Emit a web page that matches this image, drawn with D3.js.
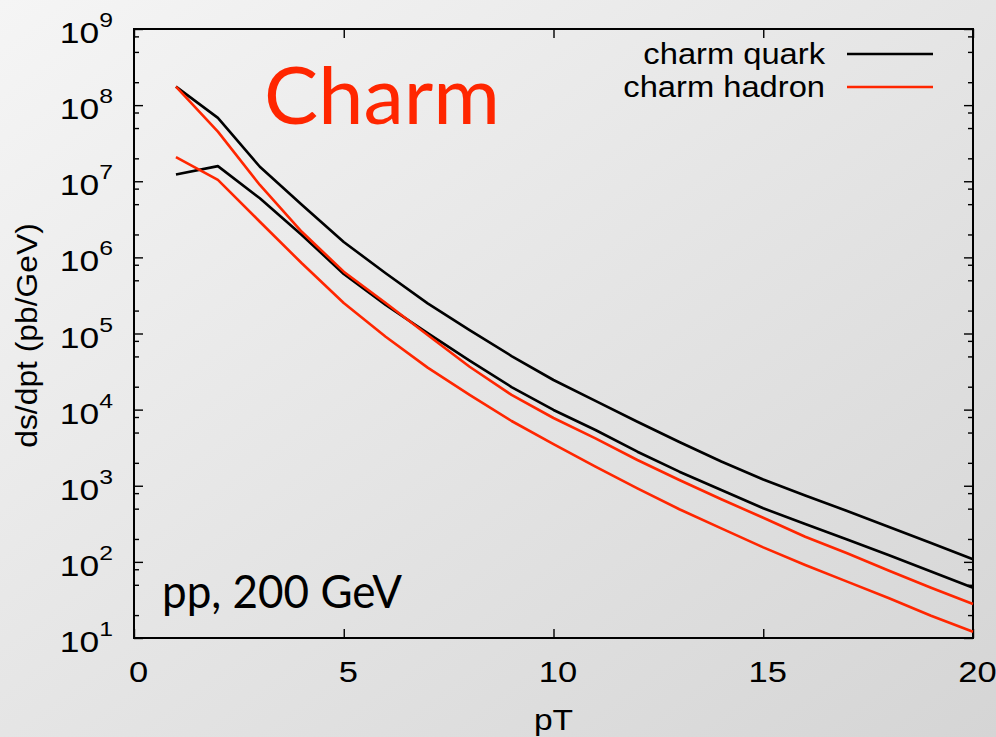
<!DOCTYPE html>
<html lang="en">
<head>
<meta charset="UTF-8">
<title>Charm pT spectrum</title>
<script src="https://cdn.jsdelivr.net/npm/d3@7/dist/d3.min.js"></script>
<style>
    body { margin: 0; }
    svg { display: block; }
    .gp { font-family: "Liberation Sans", Arial, sans-serif; fill: #000; }
    .gill { font-family: Lato, "Open Sans", sans-serif; }
    .tick line { stroke: #000; stroke-width: 1.4; }
</style>
</head>
<body>
<svg></svg>
<script>
// pT grid (GeV)
const pT = [1, 2, 3, 4, 5, 6, 7, 8, 9, 10, 11, 12, 13, 14, 15, 16, 17, 18, 19, 20];

// charm quark band (pb/GeV)
const quarkUpper = [1.75e8, 6.8e7, 1.55e7, 4.9e6, 1.59e6, 6.2e5, 2.49e5, 1.11e5, 5.06e4, 2.45e4,
    1.3e4, 6.93e3, 3.76e3, 2.08e3, 1.21e3, 745, 466, 287, 177, 108];
const quarkLower = [1.23e7, 1.58e7, 5.97e6, 1.97e6, 6.05e5, 2.37e5, 1.01e5, 4.4e4, 1.98e4, 9.9e3,
    5.4e3, 2.8e3, 1.53e3, 879, 506, 315, 197, 122, 74.6, 45.8];

// charm hadron band (pb/GeV)
const hadronUpper = [1.75e8, 4.48e7, 8.93e6, 2.17e6, 6.49e5, 2.52e5, 9.55e4, 3.66e4, 1.56e4, 7.76e3,
    4.2e3, 2.18e3, 1.19e3, 664, 380, 214, 130, 76.6, 45.8, 28.0];
const hadronLower = [2.07e7, 1.04e7, 2.94e6, 8.36e5, 2.52e5, 9.08e4, 3.56e4, 1.56e4, 7.09e3, 3.53e3,
    1.78e3, 925, 491, 276, 155, 91, 55, 33.2, 19.6, 12.1];

const xTicks = [0, 5, 10, 15, 20];
const yExponents = [1, 2, 3, 4, 5, 6, 7, 8, 9];
const legendNames = ['charm quark', 'charm hadron'];

const W = 996, H = 737;
const pl = 134, pr = 973, pt = 29, pb = 638;
const black = '#000', red = '#ff2600';

const svg = d3.select('svg').attr('width', W).attr('height', H);

const grad = svg.append('defs').append('linearGradient')
    .attr('id', 'bg').attr('x1', 0).attr('y1', 0).attr('x2', 1).attr('y2', 1);
grad.append('stop').attr('offset', 0).attr('stop-color', '#f5f5f5');
grad.append('stop').attr('offset', 1).attr('stop-color', '#d5d5d5');
svg.append('rect').attr('width', W).attr('height', H).attr('fill', 'url(#bg)');

const x = d3.scaleLinear().domain([0, 20]).range([pl, pr]);
const y = d3.scaleLog().domain([10, 1e9]).range([pb, pt]);

const majors = yExponents.map(e => Math.pow(10, e));
const minors = [];
yExponents.slice(0, -1).forEach(e => [2, 5, 8].forEach(m => minors.push(m * Math.pow(10, e))));

function ticks(axis, tr) {
    const g = svg.append('g').attr('transform', tr).call(axis);
    g.select('.domain').remove();
    return g;
}
ticks(d3.axisBottom(x).tickValues(xTicks).tickSize(-9).tickFormat(''), `translate(0,${pb})`);
ticks(d3.axisTop(x).tickValues(xTicks).tickSize(-9).tickFormat(''), `translate(0,${pt})`);
ticks(d3.axisLeft(y).tickValues(majors).tickSize(-9).tickFormat(''), `translate(${pl},0)`);
ticks(d3.axisLeft(y).tickValues(minors).tickSize(-5).tickFormat(''), `translate(${pl},0)`);
ticks(d3.axisRight(y).tickValues(majors).tickSize(-9).tickFormat(''), `translate(${pr},0)`);
ticks(d3.axisRight(y).tickValues(minors).tickSize(-5).tickFormat(''), `translate(${pr},0)`);

svg.append('rect')
    .attr('x', pl).attr('y', pt)
    .attr('width', pr - pl).attr('height', pb - pt)
    .attr('fill', 'none').attr('stroke', '#000').attr('stroke-width', 2);

// y tick labels 10^n
yExponents.forEach(e => {
    const t = svg.append('text').attr('class', 'gp')
        .attr('transform', `translate(113,${y(Math.pow(10, e)) + 14}) scale(1.18,1)`)
        .attr('text-anchor', 'end')
        .style('font-size', '30px');
    t.append('tspan').text('10');
    t.append('tspan').attr('dy', -16).style('font-size', '21px').text(e);
});

// x tick labels
xTicks.forEach(v => {
    svg.append('text').attr('class', 'gp')
        .attr('transform', `translate(${x(v) + 4.5},682) scale(1.15,1)`)
        .attr('text-anchor', 'middle')
        .style('font-size', '30px')
        .text(v);
});

svg.append('text').attr('class', 'gp')
    .attr('transform', `translate(${x(10)},730) scale(1.12,1)`)
    .attr('text-anchor', 'middle').style('font-size', '30px')
    .text('pT');

svg.append('text').attr('class', 'gp')
    .attr('transform', `translate(37,${(pt + pb) / 2 + 2}) rotate(-90) scale(1.06,1)`)
    .attr('text-anchor', 'middle').style('font-size', '30px')
    .text('ds/dpt (pb/GeV)');

// curves
const line = d3.line().x((d, i) => x(pT[i])).y(d => y(d));
const series = [
    { v: quarkUpper, c: black }, { v: quarkLower, c: black },
    { v: hadronUpper, c: red }, { v: hadronLower, c: red }
];
svg.selectAll('path.curve').data(series).enter().append('path')
    .attr('class', 'curve')
    .attr('d', s => line(s.v))
    .attr('fill', 'none')
    .attr('stroke', s => s.c)
    .attr('stroke-width', 2.6)
    .attr('stroke-linejoin', 'round');

// legend
legendNames.forEach((name, i) => {
    const yy = 54 + i * 33;
    svg.append('text').attr('class', 'gp')
        .attr('transform', `translate(825,${yy + 10}) scale(1.09,1)`)
        .attr('text-anchor', 'end').style('font-size', '30px')
        .text(name);
    svg.append('line')
        .attr('x1', 847).attr('x2', 933).attr('y1', yy).attr('y2', yy)
        .attr('stroke', i === 0 ? black : red).attr('stroke-width', 2.6);
});

svg.append('text').attr('class', 'gill')
    .attr('x', 264).attr('y', 124)
    .attr('textLength', 236).attr('lengthAdjust', 'spacingAndGlyphs')
    .style('font-size', '79px').attr('fill', red)
    .text('Charm');

svg.append('text').attr('class', 'gill')
    .attr('x', 162).attr('y', 608)
    .attr('textLength', 240).attr('lengthAdjust', 'spacingAndGlyphs')
    .style('font-size', '46px').attr('fill', '#000')
    .text('pp, 200 GeV');
</script>
</body>
</html>
